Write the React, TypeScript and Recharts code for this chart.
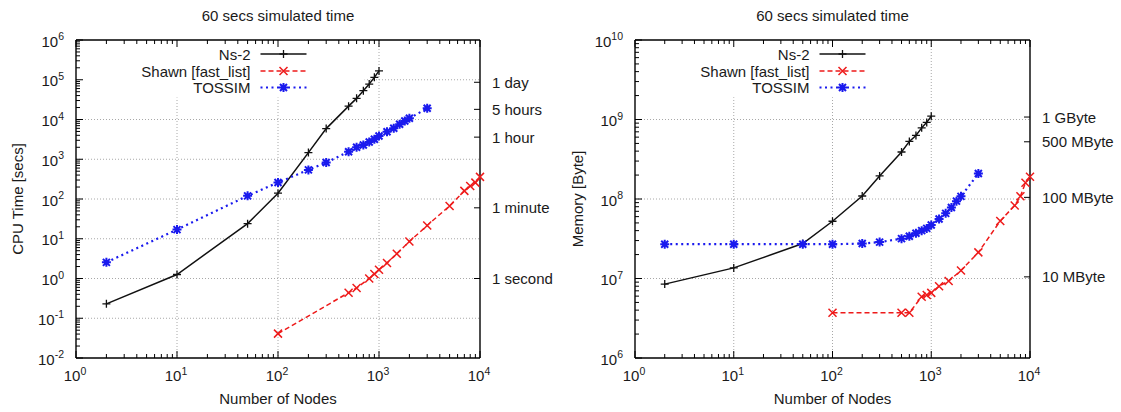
import React from 'react';
import { LineChart, Line, XAxis, YAxis, CartesianGrid, ReferenceArea } from 'recharts';

const FONT = '"Liberation Sans", Arial, Helvetica, sans-serif';
const TEXT = '#1a1a1a';

// ---- axis ticks ----
const nodeMajors = [1, 10, 100, 1000, 10000];
const cpuMajors = [0.01, 0.1, 1, 10, 100, 1000, 10000, 100000, 1000000];
const memMajors = [1e6, 1e7, 1e8, 1e9, 1e10];
const nodeGrid = [10, 100, 1000];
const cpuGrid = [0.1, 1, 10, 100, 1000, 10000, 100000];
const memGrid = [1e7, 1e8, 1e9];

// secondary (right) axes
const cpuRefValues = [1, 60, 3600, 18000, 86400];
const cpuRefLabels = ['1 second', '1 minute', '1 hour', '5 hours', '1 day'];
const memRefValues = [10485760, 104857600, 524288000, 1073741824];
const memRefLabels = ['10 MByte', '100 MByte', '500 MByte', '1 GByte'];

// ---- data: CPU time [secs] ----
const ns2Nodes = [2, 10, 50, 100, 200, 300, 500, 600, 700, 800, 900, 1000];
const ns2Cpu = [0.23, 1.26, 24, 140, 1470, 5900, 21700, 34000, 53000, 78000, 115000, 167000];
const shawnNodes = [100, 500, 600, 800, 900, 1000, 1200, 1500, 2000, 3000, 5000, 7000, 8000, 9000, 10000];
const shawnCpu = [0.041, 0.44, 0.575, 1.0, 1.3, 1.66, 2.45, 4.2, 8.5, 21.6, 67, 160, 213, 258, 360];
const tossimNodes = [2, 10, 50, 100, 200, 300, 500, 600, 700, 800, 900, 1000, 1200, 1400, 1600, 1800, 2000, 3000];
const tossimCpu = [2.55, 17, 120, 260, 540, 825, 1550, 2000, 2290, 2720, 3180, 3850, 4920, 6000, 7580, 9150, 10700, 19100];

// ---- data: Memory [Byte] ----
const ns2Mem = [8.5e6, 1.36e7, 2.75e7, 5.25e7, 1.09e8, 1.95e8, 3.9e8, 5.3e8, 6.3e8, 7.85e8, 9.2e8, 1.1e9];
const shawnMem = [3.7e6, 3.7e6, 3.7e6, 5.9e6, 6.2e6, 6.6e6, 8.0e6, 9.3e6, 1.26e7, 2.13e7, 5.3e7, 8.3e7, 1.08e8, 1.6e8, 1.9e8];
const tossimMem = [2.7e7, 2.7e7, 2.7e7, 2.7e7, 2.75e7, 2.87e7, 3.17e7, 3.4e7, 3.7e7, 4.0e7, 4.27e7, 4.7e7, 5.6e7, 6.6e7, 7.8e7, 9.4e7, 1.08e8, 2.09e8];

const seriesNames = ['Ns-2', 'Shawn [fast_list]', 'TOSSIM'];
const seriesColors = ['#111111', '#ee1a1a', '#1a1aee'];
const seriesDash = [undefined, '5 3', '2 3.5'];
const seriesWidth = [1.5, 1.5, 2.2];

const withMinors = (majors: number[]) => {
  const out: number[] = [];
  majors.forEach((m, i) => {
    out.push(m);
    if (i < majors.length - 1) for (let k = 2; k <= 9; k++) out.push(m * k);
  });
  return out;
};
const zip = (xs: number[], ys: number[]) => xs.map((x, i) => ({ x, y: ys[i] }));
const isMajor = (v: number) => Math.abs(Math.log10(v) - Math.round(Math.log10(v))) < 1e-6;

// ---- markers ----
const Marker = ({ cx, cy, kind, color }: any) => {
  const s = 4;
  if (kind === 0)
    return <path d={`M${cx - s},${cy}H${cx + s}M${cx},${cy - s}V${cy + s}`} stroke={color} strokeWidth={1.3} fill="none" />;
  if (kind === 1)
    return <path d={`M${cx - s},${cy - s}L${cx + s},${cy + s}M${cx - s},${cy + s}L${cx + s},${cy - s}`} stroke={color} strokeWidth={1.5} fill="none" />;
  const t = 4.5;
  return (
    <path
      d={`M${cx - t},${cy}H${cx + t}M${cx},${cy - t}V${cy + t}M${cx - t + 1},${cy - t + 1}L${cx + t - 1},${cy + t - 1}M${cx - t + 1},${cy + t - 1}L${cx + t - 1},${cy - t + 1}`}
      stroke={color}
      strokeWidth={2}
      fill="none"
    />
  );
};

// ---- ticks ----
const XTick = (props: any) => {
  const { x, y, payload, side } = props;
  const v = payload.value;
  const maj = isMajor(v);
  const len = maj ? 7 : 4;
  const d = side === 'bottom' ? -1 : 1;
  const exp = Math.round(Math.log10(v));
  return (
    <g>
      <line x1={x} x2={x} y1={y} y2={y + d * len} stroke="#000" strokeWidth={1} />
      {maj && side === 'bottom' ? (
        <text x={x - 1} y={y + 23} textAnchor="middle" fontFamily={FONT} fontSize={15} fill={TEXT}>
          10<tspan dy={-6} fontSize={10.5}>{exp}</tspan>
        </text>
      ) : null}
    </g>
  );
};

const YTick = (props: any) => {
  const { x, y, payload } = props;
  const v = payload.value;
  const maj = isMajor(v);
  const len = maj ? 7 : 4;
  const exp = Math.round(Math.log10(v));
  return (
    <g>
      <line x1={x} x2={x + len} y1={y} y2={y} stroke="#000" strokeWidth={1} />
      {maj ? (
        <text x={x - 12} y={y + 6.5} textAnchor="end" fontFamily={FONT} fontSize={15} fill={TEXT}>
          10<tspan dy={-6.5} fontSize={10.5}>{exp}</tspan>
        </text>
      ) : null}
    </g>
  );
};

const RTick = (props: any) => {
  const { x, y, payload, values, labels } = props;
  const label = labels[values.indexOf(payload.value)];
  return (
    <g>
      <line x1={x} x2={x - 6} y1={y} y2={y} stroke="#000" strokeWidth={1} />
      <text x={x + 12} y={y + 5.5} textAnchor="start" fontFamily={FONT} fontSize={15} fill={TEXT}>
        {label}
      </text>
    </g>
  );
};

type PanelProps = {
  width: number;
  leftW: number;
  rightW: number;
  yMajors: number[];
  yGrid: number[];
  refValues: number[];
  refLabels: string[];
  series: { x: number; y: number }[][];
  boxX2: number;
  boxY: number;
};

const Panel = (p: PanelProps) => {
  const yDomain = [p.yMajors[0], p.yMajors[p.yMajors.length - 1]];
  const xTicks = withMinors(nodeMajors);
  const yTicks = withMinors(p.yMajors);
  const axisLine = { stroke: '#000', strokeWidth: 1.4 };
  return (
    <LineChart width={p.width} height={412} margin={{ top: 39, right: 0, bottom: 0, left: 0 }}>
      <CartesianGrid
        xAxisId="b"
        yAxisId="l"
        horizontalValues={p.yGrid}
        verticalValues={nodeGrid}
        stroke="#a8a8a8"
        strokeDasharray="1 2"
        strokeWidth={1}
      />
      <ReferenceArea
        xAxisId="b"
        yAxisId="l"
        x1={1}
        x2={p.boxX2}
        y1={p.boxY}
        y2={yDomain[1]}
        fill="#ffffff"
        fillOpacity={1}
        stroke="none"
      />
      <XAxis
        xAxisId="b"
        type="number"
        dataKey="x"
        scale="log"
        domain={[1, 10000]}
        ticks={xTicks}
        interval={0}
        height={54}
        tickSize={0}
        tickMargin={0}
        axisLine={axisLine}
        tickLine={false}
        tick={(t: any) => <XTick {...t} side="bottom" />}
      />
      <XAxis
        xAxisId="t"
        orientation="top"
        type="number"
        dataKey="x"
        scale="log"
        domain={[1, 10000]}
        ticks={xTicks}
        interval={0}
        height={1}
        tickSize={0}
        tickMargin={0}
        axisLine={axisLine}
        tickLine={false}
        tick={(t: any) => <XTick {...t} side="top" />}
      />
      <YAxis
        yAxisId="l"
        type="number"
        scale="log"
        domain={yDomain}
        ticks={yTicks}
        interval={0}
        width={p.leftW}
        tickSize={0}
        tickMargin={0}
        axisLine={axisLine}
        tickLine={false}
        tick={(t: any) => <YTick {...t} />}
      />
      <YAxis
        yAxisId="r"
        orientation="right"
        type="number"
        scale="log"
        domain={yDomain}
        ticks={p.refValues}
        interval={0}
        width={p.rightW}
        tickSize={0}
        tickMargin={0}
        axisLine={axisLine}
        tickLine={false}
        tick={(t: any) => <RTick {...t} values={p.refValues} labels={p.refLabels} />}
      />
      <Line
        xAxisId="t"
        yAxisId="r"
        data={p.series[0]}
        dataKey="y"
        stroke="none"
        dot={false}
        activeDot={false}
        isAnimationActive={false}
      />
      {p.series.map((data, i) => (
        <Line
          key={seriesNames[i]}
          xAxisId="b"
          yAxisId="l"
          data={data}
          dataKey="y"
          type="linear"
          stroke={seriesColors[i]}
          strokeWidth={seriesWidth[i]}
          strokeDasharray={seriesDash[i]}
          isAnimationActive={false}
          dot={(d: any) => <Marker key={`m${i}-${d.index}`} cx={d.cx} cy={d.cy} kind={i} color={seriesColors[i]} />}
          activeDot={false}
        />
      ))}
    </LineChart>
  );
};

const Overlay = ({ plotLeft, plotRight, yLabel, yLabelX }: any) => {
  const cx = (plotLeft + plotRight) / 2;
  const legendEnd = plotLeft + 174.5;
  const rows = [54, 71, 87.5];
  return (
    <g fontFamily={FONT} fill={TEXT}>
      <text x={cx} y={20.5} textAnchor="middle" fontSize={15}>60 secs simulated time</text>
      <text x={cx} y={404} textAnchor="middle" fontSize={15}>Number of Nodes</text>
      <text transform={`translate(${yLabelX},199) rotate(-90)`} textAnchor="middle" fontSize={15}>{yLabel}</text>
      {seriesNames.map((n, i) => (
        <g key={n}>
          <text x={legendEnd} y={rows[i] + 5.5} textAnchor="end" fontSize={15}>{n}</text>
          <line
            x1={legendEnd + 10}
            x2={legendEnd + 56}
            y1={rows[i]}
            y2={rows[i]}
            stroke={seriesColors[i]}
            strokeWidth={seriesWidth[i]}
            strokeDasharray={seriesDash[i]}
          />
          <Marker cx={legendEnd + 33} cy={rows[i]} kind={i} color={seriesColors[i]} />
        </g>
      ))}
    </g>
  );
};

export default function App() {
  const cpuSeries = [zip(ns2Nodes, ns2Cpu), zip(shawnNodes, shawnCpu), zip(tossimNodes, tossimCpu)];
  const memSeries = [zip(ns2Nodes, ns2Mem), zip(shawnNodes, shawnMem), zip(tossimNodes, tossimMem)];
  return (
    <div style={{ position: 'absolute', left: 0, top: 0, width: 1121, height: 412, background: '#fff', overflow: 'hidden' }}>
      <div style={{ position: 'absolute', left: 0, top: 0 }}>
        <Panel
          width={560}
          leftW={76}
          rightW={80}
          yMajors={cpuMajors}
          yGrid={cpuGrid}
          refValues={cpuRefValues}
          refLabels={cpuRefLabels}
          series={cpuSeries}
          boxX2={720}
          boxY={36000}
        />
      </div>
      <div style={{ position: 'absolute', left: 560, top: 0 }}>
        <Panel
          width={561}
          leftW={75}
          rightW={91}
          yMajors={memMajors}
          yGrid={memGrid}
          refValues={memRefValues}
          refLabels={memRefLabels}
          series={memSeries}
          boxX2={760}
          boxY={1.9e9}
        />
      </div>
      <svg width={1121} height={412} style={{ position: 'absolute', left: 0, top: 0, pointerEvents: 'none' }}>
        <Overlay plotLeft={76} plotRight={480} yLabel="CPU Time [secs]" yLabelX={23} />
        <Overlay plotLeft={635} plotRight={1030} yLabel="Memory [Byte]" yLabelX={583} />
      </svg>
    </div>
  );
}
